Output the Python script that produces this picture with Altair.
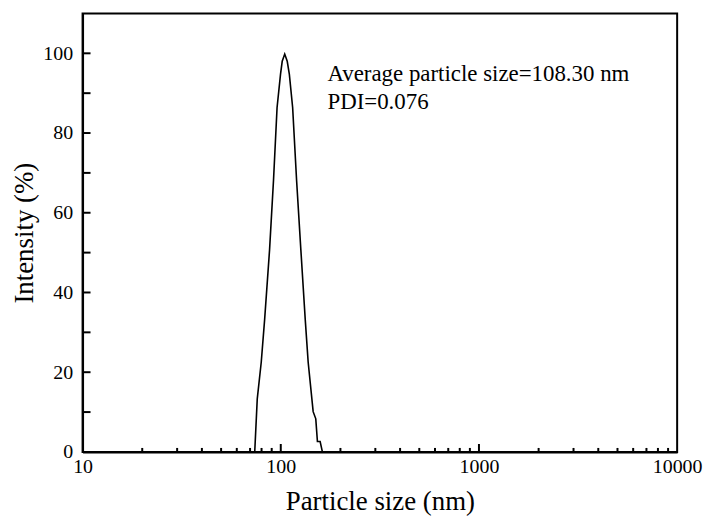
import altair as alt
import pandas as pd

# Curve data (particle size in nm, intensity in %)
size_nm = [73.9, 76.1, 79.7, 82.9, 87.8, 91.9, 95.8, 99.7, 101.7, 104.7, 107.8,
           110.5, 114.8, 120.2, 126.3, 132.9, 137.5, 145.7, 150.2, 153.1, 158.0, 162.2]
intensity = [0.0, 13.3, 22.5, 33.2, 50.7, 68.1, 86.4, 94.7, 98.0, 99.8, 98.0,
             94.7, 86.4, 68.1, 50.7, 33.2, 22.5, 10.1, 8.3, 2.6, 2.6, 0.0]

x_major_ticks = [100, 1000]
x_minor_ticks = [20, 30, 40, 50, 60, 70, 80, 90,
                 200, 300, 400, 500, 600, 700, 800, 900,
                 2000, 3000, 4000, 5000, 6000, 7000, 8000, 9000]
y_ticks = [10, 20, 30, 40, 50, 60, 70, 80, 90, 100]
x_labels = [10, 100, 1000, 10000]
y_labels = [0, 20, 40, 60, 80, 100]

notes = ["Average particle size=108.30 nm", "PDI=0.076"]
note_x = [172, 172]
note_y = [93, 86]

W, H = 598, 441
FONT = "Liberation Serif"

curve = pd.DataFrame({"size": size_nm, "intensity": intensity, "order": range(len(size_nm))})
xmaj = pd.DataFrame({"v": x_major_ticks})
xmin = pd.DataFrame({"v": x_minor_ticks})
yt = pd.DataFrame({"v": y_ticks})
nt = pd.DataFrame({"t": notes, "x": note_x, "y": note_y})

xscale = alt.Scale(type="log", domain=[10, 10000])
yscale = alt.Scale(domain=[0, 110], nice=False, zero=False)

line = alt.Chart(curve).mark_line(color="black", strokeWidth=1.6).encode(
    x=alt.X("size:Q", scale=xscale,
            axis=alt.Axis(title="Particle size (nm)", values=x_labels, format="d",
                          ticks=False, labelFlush=False, grid=False,
                          labelPadding=5, titlePadding=12)),
    y=alt.Y("intensity:Q", scale=yscale,
            axis=alt.Axis(title="Intensity (%)", values=y_labels, ticks=False,
                          grid=False, labelPadding=10, titlePadding=4)),
    order="order:Q",
)

tmaj = alt.Chart(xmaj).mark_rule(color="black", strokeWidth=2).encode(
    x=alt.X("v:Q", scale=xscale), y=alt.value(H), y2=alt.value(H - 8))
tmin = alt.Chart(xmin).mark_rule(color="black", strokeWidth=2).encode(
    x=alt.X("v:Q", scale=xscale), y=alt.value(H), y2=alt.value(H - 4))
ytk = alt.Chart(yt).mark_rule(color="black", strokeWidth=2).encode(
    y=alt.Y("v:Q", scale=yscale), x=alt.value(0), x2=alt.value(8))

text = alt.Chart(nt).mark_text(align="left", baseline="alphabetic", font=FONT,
                               fontSize=23, color="black").encode(
    x=alt.X("x:Q", scale=xscale), y=alt.Y("y:Q", scale=yscale), text="t:N")

chart = alt.layer(line, tmaj, tmin, ytk, text).properties(
    width=W, height=H, background="white",
    autosize=alt.AutoSizeParams(type="none"),
    padding={"left": 75, "top": 4, "right": 26, "bottom": 70},
).configure_view(
    stroke="black", strokeWidth=2
).configure_axis(
    domainColor="black", domainWidth=2,
    labelFont=FONT, labelFontSize=20, labelColor="black",
    titleFont=FONT, titleFontSize=27, titleColor="black", titleFontWeight="normal",
)

chart.save("out.html", embed_options={"renderer": "svg", "actions": False})
